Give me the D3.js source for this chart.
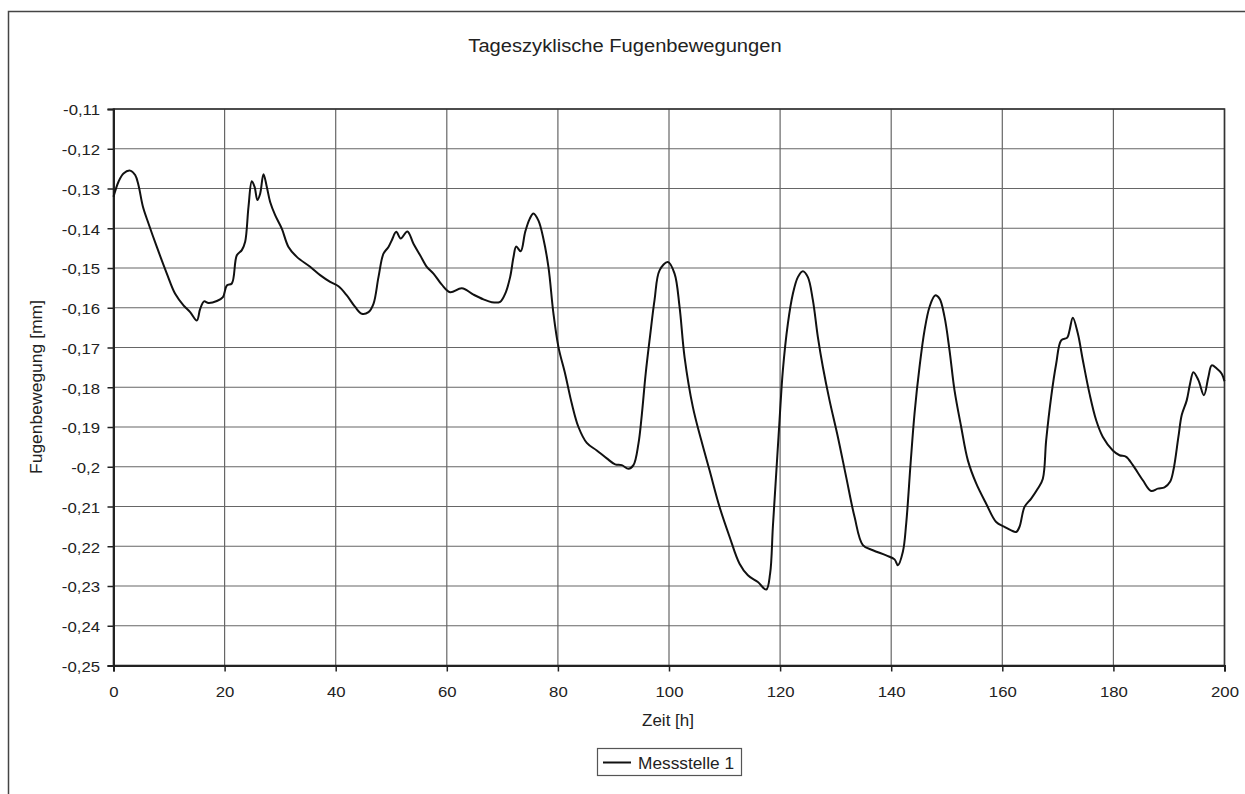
<!DOCTYPE html>
<html>
<head>
<meta charset="utf-8">
<script src="https://cdn.jsdelivr.net/npm/d3@7"></script>
<style>
  html, body { margin: 0; padding: 0; background: #fff; }
  svg text { font-family: "Liberation Sans", Arial, sans-serif; fill: #222; }
</style>
</head>
<body>
<svg id="chart" width="1245" height="794"></svg>
<script>
// Zeit in Stunden
const zeit = [
  0, 0.9, 1.8, 3.0, 3.9, 4.5, 5.3, 6.3, 7.8, 9.6, 11.1, 12.6, 13.8, 15.0, 15.6, 16.3, 17.1, 18.6, 19.7,
  20.4, 21.3, 22.2, 23.1, 23.7, 24.3, 24.9, 25.4, 25.9, 26.4, 27.0, 27.6, 28.2, 29.1, 30.3, 31.5, 33.0,
  35.4, 37.2, 39.0, 40.5, 42.0, 43.5, 44.7, 45.9, 46.8, 47.7, 48.6, 49.5, 50.1, 50.9, 51.7, 52.9, 54.0,
  55.2, 56.4, 57.6, 59.1, 60.6, 62.7, 64.8, 66.6, 68.1, 69.6, 70.5, 71.4, 72.0, 72.5, 73.3, 74.1, 74.9,
  75.6, 76.5, 77.4, 78.3, 79.2, 80.1, 81.3, 82.5, 83.7, 85.2, 87.0, 88.8, 90.3, 91.5, 92.7, 93.6, 94.5,
  95.1, 95.8, 96.6, 97.4, 98.3, 99.8, 101.0, 101.9, 102.8, 104.3, 105.8, 107.3, 109.1, 110.9, 112.7,
  114.2, 116.0, 117.5, 118.2, 118.7, 119.3, 119.9, 120.5, 121.4, 122.3, 123.2, 124.1, 125.0, 125.9,
  126.8, 127.7, 128.9, 130.4, 131.9, 133.4, 134.9, 136.7, 139.1, 140.6, 141.2, 142.1, 142.7, 143.5,
  144.2, 145.1, 146.0, 146.9, 147.9, 148.7, 149.6, 150.5, 151.4, 152.6, 153.8, 155.3, 157.1, 158.9,
  160.4, 161.6, 162.5, 163.1, 164.0, 165.2, 166.4, 167.3, 167.9, 168.8, 169.7, 170.6, 171.7, 172.1,
  172.7, 173.6, 174.5, 175.7, 176.9, 178.1, 179.9, 181.1, 182.3, 183.5, 185.3, 186.8, 188.0, 189.2,
  190.2, 190.8, 191.7, 192.3, 193.2, 193.8, 194.4, 195.3, 196.3, 197.1, 197.7, 198.6, 199.5, 200
];

// Fugenbewegung Messstelle 1 in mm
const messstelle1 = [
  -0.1321, -0.1283, -0.1262, -0.1255, -0.1266, -0.1292, -0.1346, -0.1388, -0.1447, -0.1514, -0.1565,
  -0.1594, -0.1611, -0.1632, -0.1603, -0.1584, -0.1588, -0.1583, -0.1573,
  -0.1544, -0.1539, -0.1468, -0.1455, -0.1434, -0.1346, -0.1282, -0.1296, -0.1329, -0.1313, -0.1264,
  -0.1296, -0.1334, -0.1367, -0.1401, -0.1447, -0.1472,
  -0.1497, -0.1518, -0.1535, -0.1546, -0.1569, -0.1598, -0.1615, -0.1611, -0.1590, -0.1523, -0.1464,
  -0.1447, -0.1430, -0.1409, -0.1426, -0.1408, -0.1439,
  -0.1468, -0.1497, -0.1514, -0.1542, -0.1561, -0.1551, -0.1567, -0.1579, -0.1586, -0.1585, -0.1565,
  -0.1523, -0.1473, -0.1446, -0.1458, -0.1410, -0.1377,
  -0.1363, -0.1381, -0.1427, -0.1498, -0.1615, -0.1699, -0.1766, -0.1841, -0.1900, -0.1940, -0.1959,
  -0.1979, -0.1994, -0.1996, -0.2005, -0.1996, -0.1942,
  -0.1870, -0.1766, -0.1670, -0.1580, -0.1506, -0.1485, -0.1514, -0.1598, -0.1724, -0.1850, -0.1933,
  -0.2009, -0.2101, -0.2176, -0.2244,
  -0.2273, -0.2290, -0.2309, -0.2269, -0.2151, -0.2017, -0.1883, -0.1757, -0.1640, -0.1565, -0.1523,
  -0.1508, -0.1523, -0.1581,
  -0.1674, -0.1749, -0.1833, -0.1925, -0.2026, -0.2126, -0.2197, -0.2210, -0.2223, -0.2233, -0.2248,
  -0.2214, -0.2143, -0.1990,
  -0.1866, -0.1749, -0.1657, -0.1598, -0.1569, -0.1577, -0.1623, -0.1707, -0.1808, -0.1900, -0.1984,
  -0.2042, -0.2093, -0.2139,
  -0.2151, -0.2160, -0.2164, -0.2151, -0.2101, -0.2080, -0.2055, -0.2030, -0.1933, -0.1824, -0.1741,
  -0.1682, -0.1675, -0.1657,
  -0.1625, -0.1665, -0.1732, -0.1816, -0.1883, -0.1925, -0.1959, -0.1971, -0.1975, -0.1996, -0.2034,
  -0.2061, -0.2055, -0.2052,
  -0.2038, -0.2009, -0.1925, -0.1870, -0.1833, -0.1791, -0.1762, -0.1782, -0.1820, -0.1774, -0.1745,
  -0.1753, -0.1766, -0.1785
];

const xTicks = [0, 20, 40, 60, 80, 100, 120, 140, 160, 180, 200];
const yTicks = [-0.11, -0.12, -0.13, -0.14, -0.15, -0.16, -0.17, -0.18, -0.19, -0.20,
                -0.21, -0.22, -0.23, -0.24, -0.25];

const titel = "Tageszyklische Fugenbewegungen";
const xTitel = "Zeit [h]";
const yTitel = "Fugenbewegung [mm]";
const serienName = "Messstelle 1";

const svg = d3.select("#chart");
const plot = { left: 113.5, right: 1224.5, top: 109, bottom: 665.5 };

const x = d3.scaleLinear().domain([0, 200]).range([plot.left, plot.right]);
const y = d3.scaleLinear().domain([-0.25, -0.11]).range([plot.bottom, plot.top]);

// Widen glyphs slightly so the lettering runs as broad as the original typeface
function widen(sel, k) {
  sel.each(function () {
    const w = this.getComputedTextLength();
    this.setAttribute("textLength", w * k);
    this.setAttribute("lengthAdjust", "spacingAndGlyphs");
  });
}

// Outer chart frame (runs off the page to the right and bottom)
svg.append("rect")
  .attr("x", 8.5).attr("y", 11.5)
  .attr("width", 1400).attr("height", 900)
  .attr("fill", "#fff").attr("stroke", "#444").attr("stroke-width", 1.5);

// Title
svg.append("text")
  .attr("x", 625).attr("y", 52)
  .attr("text-anchor", "middle")
  .attr("font-size", 17.5)
  .text(titel)
  .call(widen, 1.15);

// Grid lines
const grid = svg.append("g").attr("stroke", "#666").attr("stroke-width", 1.2);
grid.selectAll("line.h").data(yTicks).join("line")
  .attr("class", "h")
  .attr("x1", plot.left).attr("x2", plot.right)
  .attr("y1", d => y(d)).attr("y2", d => y(d));
grid.selectAll("line.v").data(xTicks).join("line")
  .attr("class", "v")
  .attr("x1", d => x(d)).attr("x2", d => x(d))
  .attr("y1", plot.top).attr("y2", plot.bottom);

// Plot border
svg.append("rect")
  .attr("x", plot.left).attr("y", plot.top)
  .attr("width", plot.right - plot.left).attr("height", plot.bottom - plot.top)
  .attr("fill", "none").attr("stroke", "#333").attr("stroke-width", 1.6);

const fmtY = d => {
  const s = d3.format(".2f")(d).replace(/0$/, "");
  return s.replace("−", "-").replace(".", ",");
};

// Y axis
const yAxis = svg.append("g")
  .attr("transform", `translate(${plot.left},0)`)
  .call(d3.axisLeft(y).tickValues(yTicks).tickSize(6).tickPadding(7.5).tickFormat(fmtY));
yAxis.select(".domain").attr("stroke", "#222").attr("stroke-width", 2);
yAxis.selectAll(".tick line").attr("stroke", "#222").attr("stroke-width", 1.5);
yAxis.selectAll(".tick text").attr("font-size", 15.5).attr("fill", "#222")
  .attr("dy", "0.38em")
  .attr("font-family", "'Liberation Sans', Arial, sans-serif")
  .call(widen, 1.08);

// X axis
const xAxis = svg.append("g")
  .attr("transform", `translate(0,${plot.bottom})`)
  .call(d3.axisBottom(x).tickValues(xTicks).tickSize(6).tickPadding(14).tickFormat(d3.format("d")));
xAxis.select(".domain").attr("stroke", "#222").attr("stroke-width", 2);
xAxis.selectAll(".tick line").attr("stroke", "#222").attr("stroke-width", 1.5);
xAxis.selectAll(".tick text").attr("font-size", 15.5).attr("fill", "#222")
  .attr("font-family", "'Liberation Sans', Arial, sans-serif")
  .call(widen, 1.08);

// Axis titles
svg.append("text")
  .attr("x", 668).attr("y", 725.5)
  .attr("text-anchor", "middle")
  .attr("font-size", 16)
  .text(xTitel)
  .call(widen, 1.06);

svg.append("text")
  .attr("transform", `translate(42,387) rotate(-90)`)
  .attr("text-anchor", "middle")
  .attr("font-size", 16.5)
  .text(yTitel)
  .call(widen, 1.06);

// Data line
const pts = zeit.map((t, i) => [t, messstelle1[i]]);
const line = d3.line()
  .x(d => x(d[0]))
  .y(d => y(d[1]))
  .curve(d3.curveCatmullRom.alpha(0.5));

svg.append("path")
  .datum(pts)
  .attr("fill", "none")
  .attr("stroke", "#111")
  .attr("stroke-width", 2)
  .attr("stroke-linejoin", "round")
  .attr("d", line);

// Legend
const leg = svg.append("g").attr("transform", "translate(597,748)");
leg.append("rect")
  .attr("x", 0.5).attr("y", 0.5).attr("width", 144).attr("height", 27)
  .attr("fill", "#fff").attr("stroke", "#555").attr("stroke-width", 1.2);
leg.append("line")
  .attr("x1", 6).attr("x2", 34).attr("y1", 14.5).attr("y2", 14.5)
  .attr("stroke", "#111").attr("stroke-width", 2);
leg.append("text")
  .attr("x", 41).attr("y", 20.5)
  .attr("font-size", 16)
  .text(serienName)
  .call(widen, 1.08);
</script>
</body>
</html>
